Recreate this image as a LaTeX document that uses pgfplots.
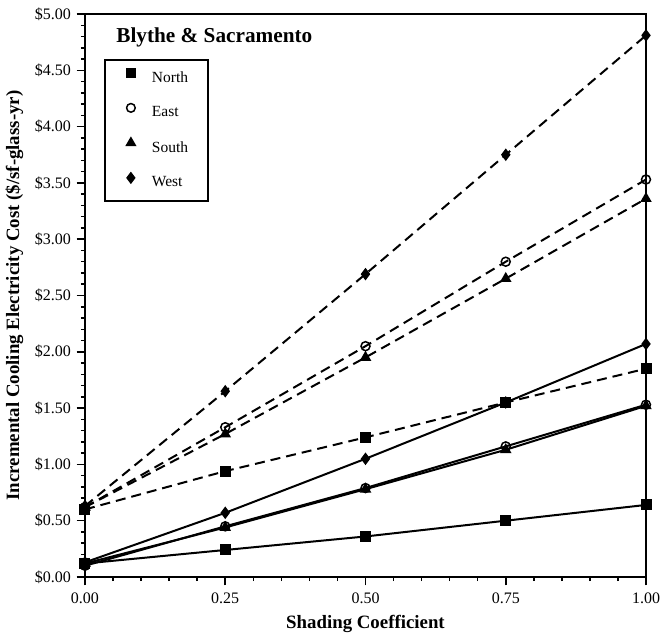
\documentclass[border=0pt]{standalone}
\usepackage{pgfplots}
\pgfplotsset{compat=1.18}
\usetikzlibrary{calc}
\usepackage{fontspec}
\setmainfont{Liberation Serif}
\begin{document}
\begin{tikzpicture}
\begin{axis}[
    scale only axis,
    width=336.6pt, height=337.8pt,
    xmin=0, xmax=1, ymin=0, ymax=5,
    xtick={0,0.25,0.5,0.75,1},
    ytick={0,0.5,...,5},
    minor x tick num=4,
    minor y tick num=4,
    xtick pos=bottom, ytick pos=left,
    tick align=outside,
    major tick length=5pt, minor tick length=2.5pt,
    axis line style={line width=1.3pt},
    every tick/.style={black, line width=0.9pt},
    /pgf/number format/assume math mode=true,
    xticklabel={\pgfmathprintnumber[fixed,fixed zerofill,precision=2]{\tick}},
    yticklabel={\$\pgfmathprintnumber[fixed,fixed zerofill,precision=2]{\tick}},
    ticklabel style={font=\fontsize{9.6}{11}\selectfont},
    xticklabel style={yshift=-1pt},
    xlabel={\bfseries Shading Coefficient},
    ylabel={\bfseries Incremental Cooling Electricity Cost (\$/sf-glass-yr)},
    label style={font=\fontsize{11.3}{13}\selectfont},
    legend style={at={(0.034,0.920)}, anchor=north west, draw=black, line width=1pt,
        font=\fontsize{9.3}{11}\selectfont, row sep=9pt, inner xsep=0pt, inner ysep=4.8pt,
        nodes={inner sep=0pt, text width=33.6pt, align=left}},
    legend cell align=left,
    legend image code/.code={
        \path[draw=none, fill=none] (-15.6pt,-6pt) rectangle (12.6pt,6pt);
        \draw[#1, line width=0.9pt] plot coordinates {(0pt,3pt)};},
    every axis plot/.append style={black, line width=1.2pt},
]
\coordinate (sw) at (rel axis cs:0,0);
\coordinate (ne) at (rel axis cs:1,1);
% legend entries (marks only)
\addlegendimage{only marks, mark=square*, mark size=2.5pt}
\addlegendentry{North}
\addlegendimage{only marks, mark=o, mark size=2.6pt}
\addlegendentry{East}
\addlegendimage{only marks, mark=triangle*, mark size=3pt}
\addlegendentry{South}
\addlegendimage{only marks, mark=diamond*, mark size=3pt}
\addlegendentry{West}

% Blythe (dashed)
\addplot[dash pattern=on 6pt off 3.6pt, mark=diamond*, mark size=2.8pt, mark options={solid}, forget plot]
coordinates {(0,0.63)(0.25,1.65)(0.5,2.69)(0.75,3.75)(1,4.81)};
\addplot[dash pattern=on 6pt off 3.6pt, mark=o, mark size=2.7pt, mark options={solid, fill=white, line width=0.9pt}, forget plot]
coordinates {(0,0.62)(0.25,1.33)(0.5,2.05)(0.75,2.80)(1,3.53)};
\addplot[dash pattern=on 6pt off 3.6pt, mark=triangle*, mark size=2.8pt, mark options={solid}, forget plot]
coordinates {(0,0.62)(0.25,1.27)(0.5,1.95)(0.75,2.65)(1,3.36)};
\addplot[dash pattern=on 6pt off 3.6pt, mark=square*, mark size=2.7pt, mark options={solid}, forget plot]
coordinates {(0,0.60)(0.25,0.94)(0.5,1.24)(0.75,1.55)(1,1.85)};

% Sacramento (solid)
\addplot[mark=diamond*, mark size=2.8pt, forget plot]
coordinates {(0,0.13)(0.25,0.57)(0.5,1.05)(0.75,1.55)(1,2.07)};
\addplot[mark=o, mark size=2.7pt, mark options={fill=white, line width=0.9pt}, forget plot]
coordinates {(0,0.10)(0.25,0.45)(0.5,0.79)(0.75,1.16)(1,1.53)};
\addplot[mark=triangle*, mark size=2.8pt, forget plot]
coordinates {(0,0.12)(0.25,0.44)(0.5,0.78)(0.75,1.13)(1,1.52)};
\addplot[mark=square*, mark size=2.7pt, forget plot]
coordinates {(0,0.12)(0.25,0.24)(0.5,0.36)(0.75,0.50)(1,0.64)};

\node[anchor=west, inner sep=0pt, font=\fontsize{12.75}{14}\selectfont\bfseries] at (rel axis cs:0.0553,0.959) {Blythe \& Sacramento};
\end{axis}
\pgfresetboundingbox
\path ($(sw)+(-51pt,-34.8pt)$) rectangle ($(ne)+(12pt,8.4pt)$);
\end{tikzpicture}
\end{document}
